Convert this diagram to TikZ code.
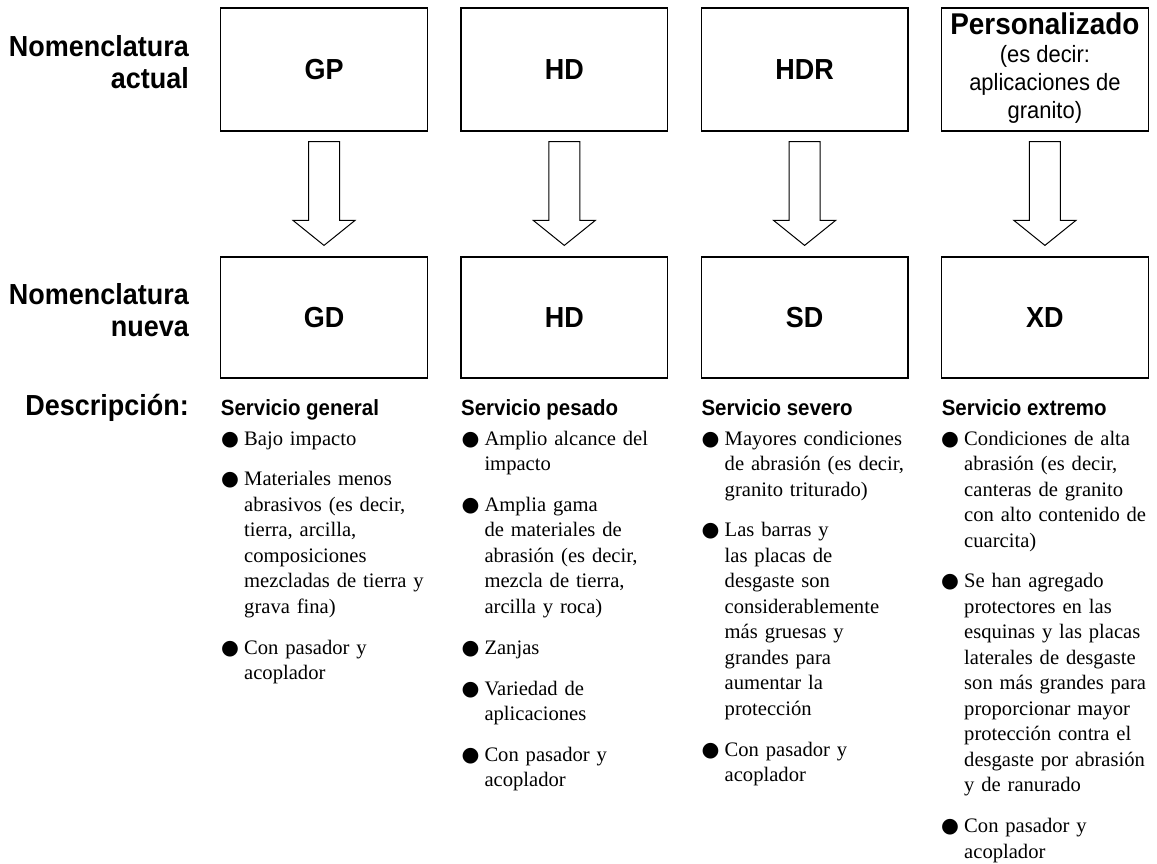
\documentclass[tikz,border=0pt]{standalone}
\usepackage{fontspec}
\setmainfont{Liberation Serif}
\setsansfont{Liberation Sans}
\newfontfamily\condsans[FakeStretch=0.93]{Liberation Sans}
\newfontfamily\symfont{DejaVu Sans}
\usetikzlibrary{calc}
\newcommand{\bulmark}{\makebox[23pt][l]{\strut{\symfont\fontsize{20.5}{20}\selectfont ●}}}
\newcommand{\bulf}[1]{\par\noindent\hangindent=23pt\hangafter=1\bulmark#1\par}
\newcommand{\bul}[1]{\par\vskip 15.3pt\noindent\hangindent=23pt\hangafter=1\bulmark#1\par}
\tikzset{
  box/.style={draw, line width=1.2pt, minimum width=206.6pt, inner sep=0pt, align=center,
    font=\condsans\bfseries\fontsize{29}{33}\selectfont},
  topbox/.style={box, minimum height=123pt},
  botbox/.style={box, minimum height=121pt},
  boxtext/.style={inner sep=0pt, align=center, font=\condsans\fontsize{23.6}{28}\selectfont},
  lab/.style={inner sep=0pt, align=right, font=\condsans\bfseries\fontsize{29}{32}\selectfont},
  head/.style={inner sep=0pt, anchor=base west, font=\condsans\bfseries\fontsize{22}{26}\selectfont},
  desc/.style={inner sep=0pt, anchor=north west, text width=215pt,
    font=\fontsize{20.6}{25.5}\selectfont,
    execute at begin node={\setlength{\parskip}{0pt}\setlength{\parindent}{0pt}}},
  bigarrow/.style={draw, line width=1pt, fill=white, line join=miter}
}
\begin{document}
\begin{tikzpicture}[x=1pt,y=-1pt]
\fill[white] (0,0) rectangle (1157,863);
\useasboundingbox (0,0) rectangle (1157,863);

% top row
\node[topbox] (t1) at (324,69.5) {GP};
\node[topbox] (t2) at (564.3,69.5) {HD};
\node[topbox] (t3) at (804.6,69.5) {HDR};
\node[topbox] (t4) at (1044.9,69.5) {};
\node[boxtext] (t4text) at ($(t4.center)+(0,-1.5)$) {{\bfseries\fontsize{30}{28}\selectfont Personalizado}\\
  (es decir:\\ aplicaciones de\\ granito)};

% bottom row
\node[botbox] (b1) at (324,317.5) {GD};
\node[botbox] (b2) at (564.3,317.5) {HD};
\node[botbox] (b3) at (804.6,317.5) {SD};
\node[botbox] (b4) at (1044.9,317.5) {XD};

% arrows
\foreach \a/\b in {t1/b1,t2/b2,t3/b3,t4/b4}{
  \draw[bigarrow] ($(\a.south)+(-15.5,10)$) -- ($(\a.south)+(15.5,10)$)
    -- ($(\b.north)+(15.5,-36)$) -- ($(\b.north)+(31,-36)$)
    -- ($(\b.north)+(0,-11)$) -- ($(\b.north)+(-31,-36)$)
    -- ($(\b.north)+(-15.5,-36)$) -- cycle;
}

% left labels
\node[lab, anchor=east] (l1) at (189,62.5) {Nomenclatura\\actual};
\node[lab, anchor=east] (l2) at (189,310.5) {Nomenclatura\\nueva};
\node[lab, anchor=base east] (l3) at (189,415.5) {Descripción:};

% headings
\node[head] (h1) at (220.7,415) {Servicio general};
\node[head] (h2) at (461,415) {Servicio pesado};
\node[head] (h3) at (701.3,415) {Servicio severo};
\node[head] (h4) at (941.6,415) {Servicio extremo};

% descriptions
\node[desc] (d1) at (221,419.4) {%
\bulf{Bajo impacto}
\bul{Materiales menos\newline abrasivos (es decir,\newline tierra, arcilla,\newline composiciones\newline mezcladas de tierra y\newline grava fina)}
\bul{Con pasador y\newline acoplador}};

\node[desc] (d2) at (461.3,419.4) {%
\bulf{Amplio alcance del\newline impacto}
\bul{Amplia gama\newline de materiales de\newline abrasión (es decir,\newline mezcla de tierra,\newline arcilla y roca)}
\bul{Zanjas}
\bul{Variedad de\newline aplicaciones}
\bul{Con pasador y\newline acoplador}};

\node[desc] (d3) at (701.5,419.4) {%
\bulf{Mayores condiciones\newline de abrasión (es decir,\newline granito triturado)}
\bul{Las barras y\newline las placas de\newline desgaste son\newline considerablemente\newline más gruesas y\newline grandes para\newline aumentar la\newline protección}
\bul{Con pasador y\newline acoplador}};

\node[desc] (d4) at (941,419.4) {%
\bulf{Condiciones de alta\newline abrasión (es decir,\newline canteras de granito\newline con alto contenido de\newline cuarcita)}
\bul{Se han agregado\newline protectores en las\newline esquinas y las placas\newline laterales de desgaste\newline son más grandes para\newline proporcionar mayor\newline protección contra el\newline desgaste por abrasión\newline y de ranurado}
\bul{Con pasador y\newline acoplador}};
\end{tikzpicture}
\end{document}
